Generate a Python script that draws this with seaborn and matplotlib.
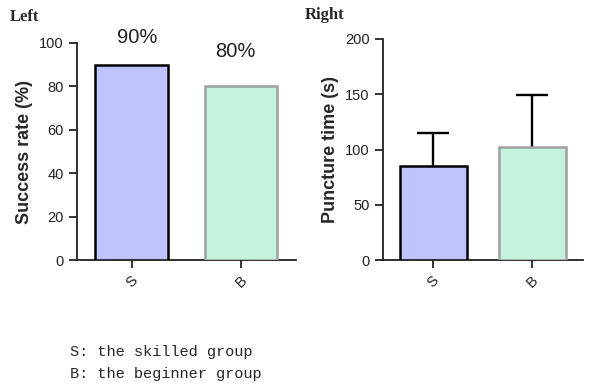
import numpy as np
import pandas as pd
import seaborn as sns
from matplotlib import pyplot as plt

groups = ['S', 'B']
success_rate = [90, 80]
success_labels = ['90%', '80%']
puncture_mean = [85, 102]
puncture_err = [30, 47]

fill_colors = ['#bec4fb', '#c3f3dc']
edge_colors = ['#000000', '#a0a0a0']

sns.set_style('ticks')
plt.rcParams['font.family'] = ['Liberation Sans', 'DejaVu Sans']

df_left = pd.DataFrame({'group': groups, 'rate': success_rate})
df_right = pd.DataFrame({'group': groups, 'time': puncture_mean})

fig = plt.figure(figsize=(6, 3.9), dpi=100)
ax1 = fig.add_axes([0.128, 0.333, 0.365, 0.557])
ax2 = fig.add_axes([0.638, 0.333, 0.333, 0.567])

sns.barplot(data=df_left, x='group', y='rate', hue='group', palette=fill_colors,
            saturation=1, width=0.66, legend=False, ax=ax1)
sns.barplot(data=df_right, x='group', y='time', hue='group', palette=fill_colors,
            saturation=1, width=0.68, legend=False, ax=ax2)

for ax in (ax1, ax2):
    for bar, ec in zip(ax.patches, edge_colors):
        bar.set_edgecolor(ec)
        bar.set_linewidth(1.8)
        bar.set_zorder(3)

# upper error bars only (hide the lower caps)
x = np.arange(len(groups))
eb = ax2.errorbar(x, puncture_mean, yerr=[np.zeros(len(groups)), puncture_err],
                  fmt='none', ecolor='black', elinewidth=1.7, capsize=11.5,
                  capthick=1.7, zorder=2)
eb[1][0].set_visible(False)

# percentage labels above the bars (small offsets as in the original)
label_dx = [0.055, -0.05]
label_y = [100, 93.5]
for xi, (dx, py, lab) in enumerate(zip(label_dx, label_y, success_labels)):
    ax1.text(xi + dx, py, lab, ha='center', va='baseline', fontsize=14.5,
             color='#222222', clip_on=False)

ax1.set_ylim(0, 100)
ax1.set_yticks([0, 20, 40, 60, 80, 100])
ax1.set_xlim(-0.5, 1.5)
ax1.set_ylabel('Success rate (%)', fontsize=13, fontweight='bold')

ax2.set_ylim(0, 200)
ax2.set_yticks([0, 50, 100, 150, 200])
ax2.set_xlim(-0.51, 1.51)
ax2.set_ylabel('Puncture time (s)', fontsize=13, fontweight='bold')

for ax in (ax1, ax2):
    ax.set_xlabel('')
    sns.despine(ax=ax)
    for s in ('left', 'bottom'):
        ax.spines[s].set_linewidth(1.3)
        ax.spines[s].set_color('#222222')
    ax.tick_params(axis='both', width=1.3, length=6, labelsize=10.5, colors='#222222')
    ax.tick_params(axis='x', labelrotation=45)

fig.text(0.017, 0.945, 'Left', fontsize=12, fontweight='bold', family='Liberation Serif')
fig.text(0.508, 0.952, 'Right', fontsize=12, fontweight='bold', family='Liberation Serif')

fig.text(0.117, 0.088, 'S: the skilled group', fontsize=11, family='Liberation Mono')
fig.text(0.117, 0.030, 'B: the beginner group', fontsize=11, family='Liberation Mono')

plt.savefig('out.png', dpi=100)
